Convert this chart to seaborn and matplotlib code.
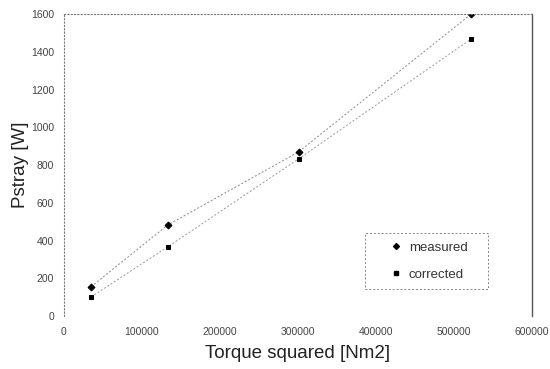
import pandas as pd
import seaborn as sns
import matplotlib.pyplot as plt

# valores
torque_sq = [35000, 133000, 301000, 522000]
p_measured = [155, 482, 870, 1600]
p_corrected = [101, 366, 833, 1468]
series = ["measured", "corrected"]

df = pd.DataFrame({
    "torque": torque_sq * 2,
    "pstray": p_measured + p_corrected,
    "serie": [series[0]] * 4 + [series[1]] * 4,
})

sns.set_style("white")
plt.rcParams["font.family"] = ["Liberation Sans", "DejaVu Sans"]

fig = plt.figure(figsize=(5.5, 3.69), dpi=100)
ax = fig.add_axes([0.116, 0.1436, 0.851, 0.818])

sns.lineplot(data=df, x="torque", y="pstray", hue="serie", style="serie",
             markers={"measured": "D", "corrected": "s"}, dashes=False,
             palette={"measured": "#888888", "corrected": "#999999"},
             linewidth=0.7, markersize=3.5, ax=ax, legend=False)
for line in ax.lines:
    line.set_linestyle((0, (2, 2)))
    line.set_markerfacecolor("black")
    line.set_markeredgecolor("black")

ax.set_xlim(0, 600000)
ax.set_ylim(0, 1600)
ax.set_xticks(range(0, 600001, 100000))
ax.set_yticks(range(0, 1601, 200))
ax.tick_params(axis="both", labelsize=7.5, colors="#444444", length=2, direction="in")
ax.tick_params(axis="x", pad=8)
ax.tick_params(axis="y", pad=7)
ax.set_xlabel("Torque squared [Nm2]", fontsize=13.5, color="#222222", labelpad=6)
ax.set_ylabel("Pstray [W]", fontsize=13.5, color="#222222", labelpad=1)

for s in ["left", "top"]:
    ax.spines[s].set_linestyle((0, (1, 2)))
    ax.spines[s].set_color("#777777")
    ax.spines[s].set_linewidth(0.8)
ax.spines["bottom"].set_visible(False)
ax.spines["right"].set_color("#555555")
ax.spines["right"].set_linewidth(1.0)

handles = [
    plt.Line2D([], [], marker="D", color="black", linestyle="none", markersize=3),
    plt.Line2D([], [], marker="s", color="black", linestyle="none", markersize=3),
]
leg = ax.legend(handles, series, loc="lower left",
                bbox_to_anchor=(0.643, 0.089, 0.263, 0.1), mode="expand",
                fontsize=9.5, frameon=True, fancybox=False, handletextpad=-0.7,
                labelspacing=1.1, borderpad=0.65, handlelength=3.4,
                borderaxespad=0)
leg.get_frame().set_edgecolor("#666666")
leg.get_frame().set_linewidth(0.7)
leg.get_frame().set_linestyle((0, (2, 2)))
for t in leg.get_texts():
    t.set_color("#333333")

fig.savefig("out.png", dpi=100)
